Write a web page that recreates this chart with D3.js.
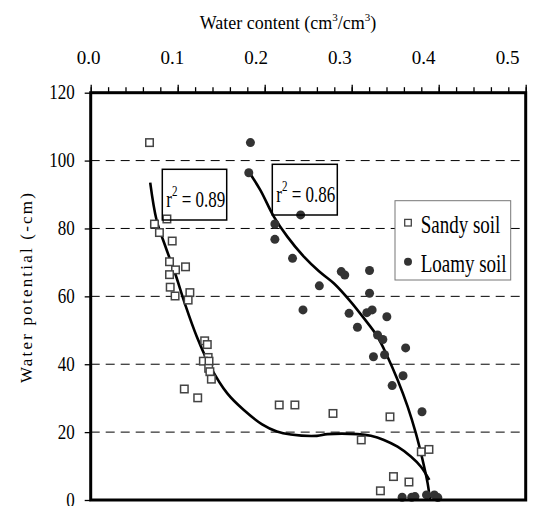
<!DOCTYPE html>
<html>
<head>
<meta charset="utf-8">
<script src="https://cdn.jsdelivr.net/npm/d3@7"></script>
<style>
  body { margin: 0; background: #fff; }
  svg text { font-family: "Liberation Serif", "Times New Roman", Times, serif !important; fill: #000; }
</style>
</head>
<body>
<div id="chart"></div>
<script>

// ---- values ----
const xTicks = [0, 0.1, 0.2, 0.3, 0.4, 0.5];
const yTicks = [0, 20, 40, 60, 80, 100, 120];
const seriesNames = ["Sandy soil", "Loamy soil"];
const fitR2 = ["0.89", "0.86"];

// sandy soil (open squares)
const sandyTheta = [0.0676, 0.0733, 0.079, 0.0876, 0.0937, 0.0906, 0.0975, 0.109, 0.0906, 0.0914,
                    0.097, 0.114, 0.112, 0.131, 0.134, 0.135, 0.1295, 0.136, 0.1356, 0.137,
                    0.1387, 0.1076, 0.123, 0.2167, 0.2347, 0.2785, 0.344, 0.311, 0.38, 0.3888,
                    0.348, 0.3658, 0.333];
const sandyPsi   = [105.3, 81.3, 78.8, 82.8, 76.3, 70.2, 67.8, 68.7, 66.4, 62.7,
                    60.1, 61.1, 58.9, 46.9, 45.8, 42.0, 40.9, 40.9, 38.8, 37.8,
                    35.6, 32.7, 30.1, 28.0, 28.0, 25.5, 24.5, 17.7, 14.2, 14.9,
                    6.9, 5.3, 2.7];

// loamy soil (filled circles)
const loamyTheta = [0.1836, 0.1817, 0.2117, 0.2413, 0.2117, 0.232, 0.288, 0.292, 0.3205, 0.2628,
                    0.3205, 0.244, 0.297, 0.3174, 0.3235, 0.3404, 0.3066, 0.3297, 0.3358, 0.362,
                    0.325, 0.3378, 0.359, 0.3465, 0.3808, 0.358, 0.369, 0.3727, 0.386, 0.395,
                    0.399];
const loamyPsi   = [105.3, 96.4, 81.3, 84.0, 76.8, 71.2, 67.3, 66.3, 67.6, 63.1,
                    60.9, 56.0, 55.0, 55.2, 56.0, 54.0, 50.9, 48.6, 47.3, 44.8,
                    42.2, 42.8, 36.6, 33.7, 26.0, 0.8, 0.8, 1.0, 1.5, 1.5,
                    0.7];

// fitted curves
const sandyFitTheta = [0.0684, 0.0757, 0.086, 0.097, 0.1087, 0.122, 0.1375, 0.157, 0.176, 0.197,
                       0.214, 0.23, 0.26, 0.272, 0.307, 0.322, 0.337, 0.3527, 0.368, 0.3796, 0.3892];
const sandyFitPsi   = [93.5, 82.5, 74.6, 66.8, 57.5, 48.1, 39.3, 31.4, 26.5, 22.3,
                       20.2, 19.3, 18.9, 19.4, 19.4, 18.9, 17.7, 15.7, 12.8, 9.8, 5.9];
const loamyFitTheta = [0.1825, 0.195, 0.2105, 0.226, 0.245, 0.2624, 0.2797, 0.299, 0.3142, 0.3297,
                       0.3412, 0.3527, 0.3643, 0.3738, 0.3815, 0.3873, 0.390];
const loamyFitPsi   = [96.4, 91.3, 83.5, 77.6, 71.7, 67.4, 63.8, 58.4, 53.5, 48.1,
                       42.2, 35.4, 27.5, 19.6, 11.8, 4.9, 0];


//--------------------------------------
// SETUP
//--------------------------------------

const W = 543, H = 506;
const plotL = 90.7, plotR = 525.7, plotT = 92.7, plotB = 500;
const serif = '"Liberation Serif", "Times New Roman", Times, serif';

const svg = d3.select("#chart").append("svg")
  .attr("width", W)
  .attr("height", H);

const x = d3.scaleLinear().domain([0, 0.5]).range([plotL, plotR]);
const y = d3.scaleLinear().domain([0, 120]).range([plotB, plotT]);
// tick labels of the top axis sit a bit compressed compared to the ticks
const xLabel = d3.scaleLinear().domain([0, 0.5]).range([88, 507]);

const zip = (a, b) => a.map((v, i) => [v, b[i]]);


// gridlines
svg.append("g")
  .selectAll("line")
  .data(yTicks.filter(d => d > 0 && d < 120))
  .enter().append("line")
  .attr("x1", plotL)
  .attr("x2", plotR)
  .attr("y1", d => y(d))
  .attr("y2", d => y(d))
  .attr("stroke", "#000")
  .attr("stroke-width", 1)
  .attr("stroke-dasharray", "9,6");


// fitted curves
const line = d3.line()
  .x(d => x(d[0]))
  .y(d => y(d[1]))
  .curve(d3.curveCatmullRom.alpha(0.5));

[zip(sandyFitTheta, sandyFitPsi), zip(loamyFitTheta, loamyFitPsi)].forEach(pts => {
  svg.append("path")
    .attr("d", line(pts))
    .attr("fill", "none")
    .attr("stroke", "#000")
    .attr("stroke-width", 2.6);
});


// points
const sq = 7.5;
svg.append("g")
  .selectAll("rect")
  .data(zip(sandyTheta, sandyPsi))
  .enter().append("rect")
  .attr("x", d => x(d[0]) - sq / 2)
  .attr("y", d => y(d[1]) - sq / 2)
  .attr("width", sq)
  .attr("height", sq)
  .attr("fill", "#fff")
  .attr("stroke", "#444")
  .attr("stroke-width", 1.5);

svg.append("g")
  .selectAll("circle")
  .data(zip(loamyTheta, loamyPsi))
  .enter().append("circle")
  .attr("cx", d => x(d[0]))
  .attr("cy", d => y(d[1]))
  .attr("r", 4.5)
  .attr("fill", "#333");


// r² boxes
const r2Boxes = [
  { x: 162.3, y: 169.3, w: 64.4, h: 50.7 },
  { x: 272.3, y: 164.3, w: 65, h: 50.7 }
];

r2Boxes.forEach((b, i) => {
  const g = svg.append("g").attr("transform", `translate(${b.x},${b.y})`);
  g.append("rect")
    .attr("width", b.w)
    .attr("height", b.h)
    .attr("fill", "none")
    .attr("stroke", "#000")
    .attr("stroke-width", 1.5);
  const t = g.append("text")
    .attr("transform", `translate(4,37.5) scale(1,1.3)`)
    .style("font-family", serif)
    .attr("font-size", 17);
  t.append("tspan").text("r");
  t.append("tspan").attr("font-size", 11).attr("dy", -8).text("2");
  t.append("tspan").attr("dy", 8).text(" = " + fitR2[i]);
});


// legend
const legend = svg.append("g").attr("transform", "translate(395,200.7)");
legend.append("rect")
  .attr("width", 115.7)
  .attr("height", 79.3)
  .attr("fill", "#fff")
  .attr("stroke", "#777")
  .attr("stroke-width", 1);

legend.append("rect")
  .attr("x", 13 - 3.3).attr("y", 22 - 3.3)
  .attr("width", 6.6).attr("height", 6.6)
  .attr("fill", "#fff").attr("stroke", "#444").attr("stroke-width", 1.3);
legend.append("circle")
  .attr("cx", 13).attr("cy", 61)
  .attr("r", 4)
  .attr("fill", "#333");

seriesNames.forEach((name, i) => {
  legend.append("text")
    .attr("transform", `translate(25.7,${32.6 + i * 39}) scale(1,1.3)`)
    .style("font-family", serif)
    .attr("font-size", 19)
    .text(name);
});


//--------------------------------------
// AXES
//--------------------------------------

// minor ticks on top
svg.append("g")
  .attr("transform", `translate(0,${plotT})`)
  .call(d3.axisTop(x).tickValues(d3.range(0, 0.5001, 0.02)).tickSize(5.5).tickFormat(""))
  .call(g => g.select(".domain").remove())
  .selectAll("line").attr("stroke-width", 1.3);

// major ticks + labels on top
svg.append("g")
  .attr("transform", `translate(0,${plotT})`)
  .call(d3.axisTop(x).tickValues(xTicks).tickSize(8).tickFormat(d3.format(".1f")))
  .call(g => g.select(".domain").remove())
  .call(g => g.selectAll("line").attr("stroke-width", 1.3))
  .call(g => g.selectAll("text")
    .attr("y", 0).attr("dy", 0)
    .attr("font-size", 19)
    .style("font-family", serif)
    .attr("transform", d => `translate(${xLabel(d) - x(d)},-29)`));

// left axis
svg.append("g")
  .attr("transform", `translate(${plotL},0)`)
  .call(d3.axisLeft(y).tickValues(yTicks).tickSize(6).tickPadding(10))
  .call(g => g.select(".domain").remove())
  .call(g => g.selectAll("line").attr("stroke-width", 1.3))
  .call(g => g.selectAll("text")
    .attr("x", 0).attr("dy", 0)
    .attr("font-size", 17)
    .style("font-family", serif)
    .attr("transform", `translate(-16,6) scale(1,1.2)`));

// frame
svg.append("rect")
  .attr("x", plotL)
  .attr("y", plotT)
  .attr("width", plotR - plotL)
  .attr("height", plotB - plotT)
  .attr("fill", "none")
  .attr("stroke", "#000")
  .attr("stroke-width", 3);


// titles
const title = svg.append("text")
  .attr("x", 288)
  .attr("y", 29)
  .attr("text-anchor", "middle")
  .style("font-family", serif)
  .attr("font-size", 18);
title.append("tspan").text("Water content (cm");
title.append("tspan").attr("font-size", 11).attr("dy", -8).text("3");
title.append("tspan").attr("dy", 8).text("/cm");
title.append("tspan").attr("font-size", 11).attr("dy", -8).text("3");
title.append("tspan").attr("dy", 8).text(")");

svg.append("text")
  .attr("transform", "translate(32,287) rotate(-90)")
  .attr("text-anchor", "middle")
  .style("font-family", serif)
  .attr("font-size", 17)
  .attr("letter-spacing", 2.2)
  .text("Water potential (-cm)");

</script>
</body>
</html>
